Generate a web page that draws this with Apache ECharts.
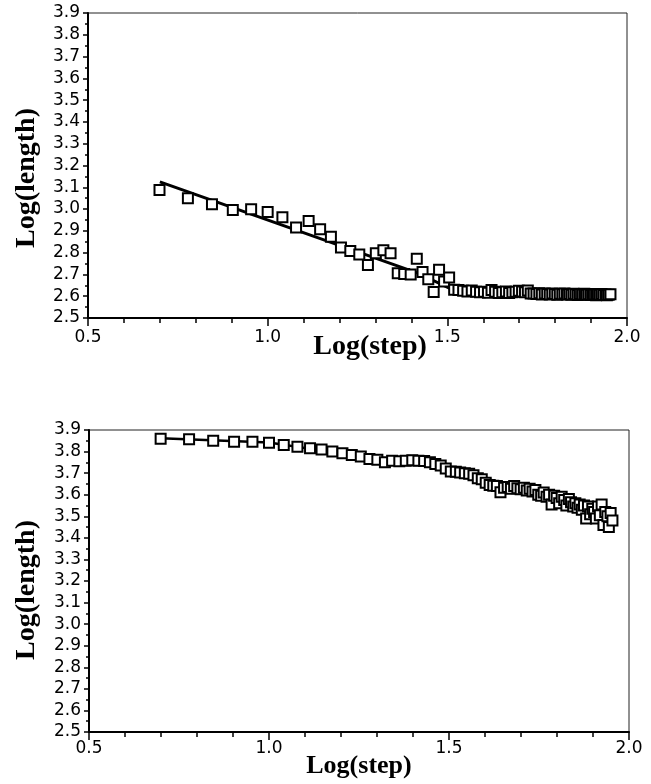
<!DOCTYPE html>
<html>
<head>
<meta charset="utf-8">
<script src="https://cdn.jsdelivr.net/npm/echarts@6/dist/echarts.min.js"></script>
<style>
  html, body { margin: 0; padding: 0; background: #fff; }
  #chart { width: 651px; height: 784px; }
</style>
</head>
<body>
<div id="chart"></div>
<script>
// log10 of step size, steps 5 .. 90
var logStep = [
  0.699, 0.778, 0.845, 0.903, 0.954, 1.000, 1.041, 1.079, 1.114, 1.146,
  1.176, 1.204, 1.230, 1.255, 1.279, 1.301, 1.322, 1.342, 1.362, 1.380,
  1.398, 1.415, 1.431, 1.447, 1.462, 1.477, 1.491, 1.505, 1.519, 1.531,
  1.544, 1.556, 1.568, 1.580, 1.591, 1.602, 1.613, 1.623, 1.633, 1.643,
  1.653, 1.663, 1.672, 1.681, 1.690, 1.699, 1.708, 1.716, 1.724, 1.732,
  1.740, 1.748, 1.756, 1.763, 1.771, 1.778, 1.785, 1.792, 1.799, 1.806,
  1.813, 1.820, 1.826, 1.833, 1.839, 1.845, 1.851, 1.857, 1.863, 1.869,
  1.875, 1.881, 1.886, 1.892, 1.898, 1.903, 1.908, 1.914, 1.919, 1.924,
  1.929, 1.934, 1.940, 1.944, 1.949, 1.954
];

// upper panel
var topLength = [
  3.088, 3.050, 3.022, 2.996, 2.999, 2.987, 2.962, 2.915, 2.945, 2.907,
  2.873, 2.824, 2.808, 2.792, 2.743, 2.797, 2.811, 2.797, 2.705, 2.702,
  2.700, 2.772, 2.711, 2.678, 2.619, 2.722, 2.668, 2.686, 2.630, 2.628,
  2.625, 2.622, 2.626, 2.620, 2.618, 2.620, 2.616, 2.628, 2.620, 2.615,
  2.618, 2.622, 2.615, 2.618, 2.620, 2.625, 2.622, 2.618, 2.626, 2.612,
  2.612, 2.610, 2.614, 2.608, 2.612, 2.610, 2.608, 2.612, 2.610, 2.607,
  2.611, 2.609, 2.612, 2.608, 2.610, 2.607, 2.611, 2.609, 2.606, 2.610,
  2.608, 2.611, 2.607, 2.609, 2.606, 2.610, 2.608, 2.605, 2.609, 2.607,
  2.610, 2.606, 2.608, 2.605, 2.607, 2.609
];
var topFitX = [0.700, 1.420, 1.520, 1.950];
var topFitY = [3.125, 2.705, 2.625, 2.608];

// lower panel
var bottomLength = [
  3.860, 3.857, 3.850, 3.846, 3.846, 3.841, 3.830, 3.822, 3.815, 3.810,
  3.800, 3.792, 3.784, 3.777, 3.766, 3.762, 3.750, 3.757, 3.755, 3.757,
  3.760, 3.758, 3.756, 3.750, 3.742, 3.735, 3.722, 3.708, 3.706, 3.703,
  3.700, 3.697, 3.690, 3.676, 3.672, 3.655, 3.645, 3.642, 3.640, 3.612,
  3.632, 3.636, 3.628, 3.640, 3.630, 3.625, 3.632, 3.620, 3.628, 3.615,
  3.622, 3.600, 3.595, 3.610, 3.590, 3.600, 3.555, 3.595, 3.585, 3.560,
  3.590, 3.575, 3.550, 3.580, 3.565, 3.545, 3.560, 3.540, 3.555, 3.530,
  3.550, 3.490, 3.545, 3.510, 3.535, 3.520, 3.490, 3.545, 3.505, 3.555,
  3.460, 3.520, 3.500, 3.450, 3.515, 3.480
];
var bottomFitX = [0.699, 1.000, 1.300, 1.420, 1.550, 1.700, 1.950];
var bottomFitY = [3.862, 3.842, 3.765, 3.755, 3.700, 3.630, 3.500];

function pairs(xs, ys) {
  return xs.map(function (x, i) { return [x, ys[i]]; });
}

var tickFont = 'DejaVu Sans';

function xAxis(gridIndex, margin) {
  return {
    type: 'value',
    gridIndex: gridIndex,
    min: 0.5,
    max: 2.0,
    interval: 0.5,
    axisLine: { show: true, lineStyle: { color: '#000', width: 2 } },
    axisTick: { show: true, length: 8, lineStyle: { color: '#000', width: 1.5 } },
    minorTick: { show: true, splitNumber: 5, length: 5, lineStyle: { color: '#000', width: 1.5 } },
    splitLine: { show: false },
    axisLabel: {
      color: '#000',
      fontFamily: tickFont,
      fontSize: 17,
      margin: margin,
      formatter: function (v) { return v.toFixed(1); }
    }
  };
}

function yAxis(gridIndex) {
  return {
    type: 'value',
    gridIndex: gridIndex,
    min: 2.5,
    max: 3.9,
    interval: 0.1,
    axisLine: { show: true, lineStyle: { color: '#000', width: 2 } },
    axisTick: { show: true, length: 5, lineStyle: { color: '#000', width: 1.5 } },
    minorTick: { show: true, splitNumber: 2, length: 3, lineStyle: { color: '#000', width: 1.5 } },
    splitLine: { show: false },
    axisLabel: {
      color: '#000',
      fontFamily: tickFont,
      fontSize: 17,
      margin: 8,
      formatter: function (v) { return v.toFixed(1); }
    }
  };
}

var squareStyle = { color: '#fff', borderColor: '#000', borderWidth: 2, opacity: 1 };

var chart = echarts.init(document.getElementById('chart'), null, { renderer: 'canvas' });

var option = {
  backgroundColor: '#fff',
  animation: false,
  grid: [
    { left: 88, top: 13, width: 539, height: 305, show: true, borderColor: '#222', borderWidth: 1, backgroundColor: 'transparent' },
    { left: 89, top: 430, width: 540, height: 302, show: true, borderColor: '#222', borderWidth: 1, backgroundColor: 'transparent' }
  ],
  xAxis: [xAxis(0, 11), xAxis(1, 8)],
  yAxis: [yAxis(0), yAxis(1)],
  series: [
    {
      type: 'line',
      xAxisIndex: 0, yAxisIndex: 0,
      data: pairs(topFitX, topFitY),
      showSymbol: false,
      lineStyle: { color: '#000', width: 3 },
      z: 2
    },
    {
      type: 'scatter',
      xAxisIndex: 0, yAxisIndex: 0,
      data: pairs(logStep, topLength),
      symbol: 'rect',
      symbolSize: 10,
      itemStyle: squareStyle,
      z: 3
    },
    {
      type: 'line',
      xAxisIndex: 1, yAxisIndex: 1,
      data: pairs(bottomFitX, bottomFitY),
      showSymbol: false,
      lineStyle: { color: '#000', width: 2.5 },
      z: 2
    },
    {
      type: 'scatter',
      xAxisIndex: 1, yAxisIndex: 1,
      data: pairs(logStep, bottomLength),
      symbol: 'rect',
      symbolSize: 10,
      itemStyle: squareStyle,
      z: 3
    }
  ],
  graphic: [
    { type: 'text', x: 370, y: 347, style: { text: 'Log(step)', font: 'bold 28px "Liberation Serif"', fill: '#000', align: 'center', verticalAlign: 'middle' } },
    { type: 'text', x: 359, y: 766, style: { text: 'Log(step)', font: 'bold 26px "Liberation Serif"', fill: '#000', align: 'center', verticalAlign: 'middle' } },
    { type: 'text', x: 27, y: 178, rotation: Math.PI / 2, style: { text: 'Log(length)', font: 'bold 28px "Liberation Serif"', fill: '#000', align: 'center', verticalAlign: 'middle' } },
    { type: 'text', x: 27, y: 590, rotation: Math.PI / 2, style: { text: 'Log(length)', font: 'bold 28px "Liberation Serif"', fill: '#000', align: 'center', verticalAlign: 'middle' } }
  ]
};

chart.setOption(option);
</script>
</body>
</html>
